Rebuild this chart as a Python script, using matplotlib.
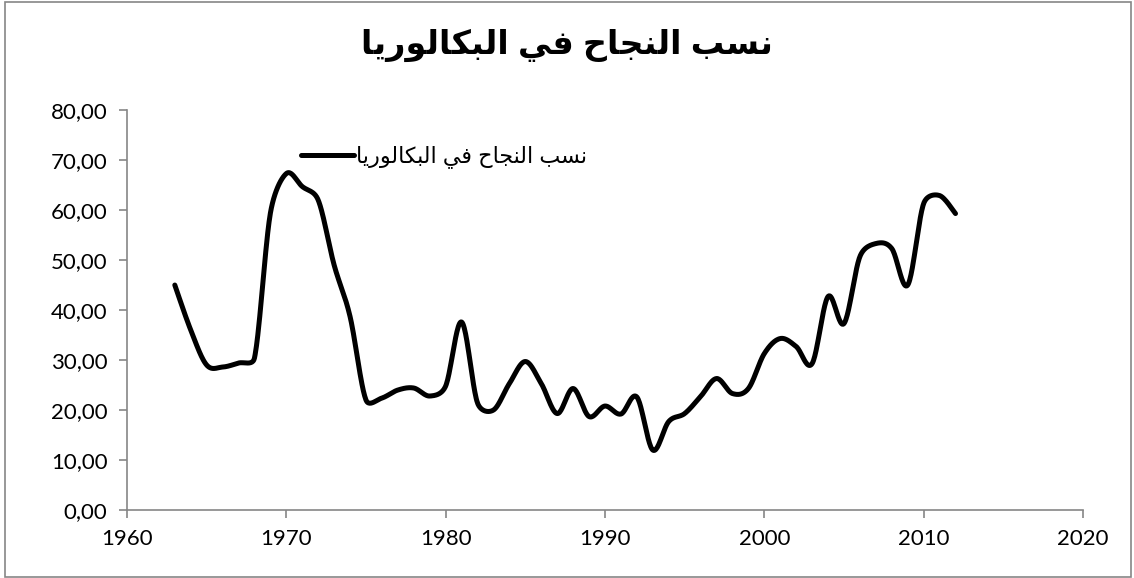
import matplotlib.pyplot as plt
import numpy as np
from matplotlib.patches import Rectangle
from matplotlib.ticker import FuncFormatter

# Pass rates
years = list(range(1963, 2013))
rates = [45.0, 36.0, 29.0, 28.6, 29.4, 30.4, 59.4, 67.3, 64.7, 62.0,
         49.0, 38.7, 22.0, 22.4, 24.0, 24.4, 22.8, 24.8, 37.6, 21.4,
         20.0, 25.3, 29.7, 25.3, 19.3, 24.3, 18.7, 20.8, 19.2, 22.6,
         12.0, 17.7, 19.3, 22.7, 26.3, 23.3, 24.3, 31.3, 34.3, 32.7,
         29.3, 42.7, 37.3, 50.7, 53.3, 52.3, 45.0, 61.3, 62.9, 59.3]

title_text = "نسب النجاح في البكالوريا"
x_ticks = [1960, 1970, 1980, 1990, 2000, 2010, 2020]
y_ticks = [0, 10, 20, 30, 40, 50, 60, 70, 80]

# --- minimal Arabic shaping (matplotlib has no bidi / joining support) ---
FORMS = {  # isolated, final, initial, medial
    'ا': ('\uFE8D', '\uFE8E', None, None),
    'ب': ('\uFE8F', '\uFE90', '\uFE91', '\uFE92'),
    'ج': ('\uFE9D', '\uFE9E', '\uFE9F', '\uFEA0'),
    'ح': ('\uFEA1', '\uFEA2', '\uFEA3', '\uFEA4'),
    'ر': ('\uFEAD', '\uFEAE', None, None),
    'س': ('\uFEB1', '\uFEB2', '\uFEB3', '\uFEB4'),
    'ف': ('\uFED1', '\uFED2', '\uFED3', '\uFED4'),
    'ك': ('\uFED9', '\uFEDA', '\uFEDB', '\uFEDC'),
    'ل': ('\uFEDD', '\uFEDE', '\uFEDF', '\uFEE0'),
    'ن': ('\uFEE5', '\uFEE6', '\uFEE7', '\uFEE8'),
    'و': ('\uFEED', '\uFEEE', None, None),
    'ي': ('\uFEF1', '\uFEF2', '\uFEF3', '\uFEF4'),
}


def dual(c):
    return c in FORMS and FORMS[c][2] is not None


def shape(text):
    out = []
    for i, c in enumerate(text):
        if c not in FORMS:
            out.append(c)
            continue
        before = i > 0 and dual(text[i - 1])
        after = dual(c) and i + 1 < len(text) and text[i + 1] in FORMS
        iso, fin, ini, med = FORMS[c]
        if before and after:
            out.append(med)
        elif before:
            out.append(fin)
        elif after:
            out.append(ini)
        else:
            out.append(iso)
    return ''.join(out)[::-1]


def smooth_line(x, y, yscale=0.314, cap=0.5, n=24):
    # Excel-like smoothed line: bezier through the points with
    # catmull-rom tangents, shortened where a neighbouring segment is short
    p = np.column_stack([np.asarray(x, float), np.asarray(y, float) * yscale])
    m = len(p)
    tang = np.zeros_like(p)
    for i in range(m):
        a = p[max(i - 1, 0)]
        b = p[min(i + 1, m - 1)]
        tang[i] = (b - a) / 6.0
    t = np.linspace(0, 1, n, endpoint=False)[:, None]
    pts = []
    for i in range(m - 1):
        p0, p3 = p[i], p[i + 1]
        seg = np.linalg.norm(p3 - p0)
        t0, t1 = tang[i].copy(), tang[i + 1].copy()
        for tv in (t0, t1):
            ln = np.linalg.norm(tv)
            if ln > cap * seg:
                tv *= cap * seg / ln
        c1, c2 = p0 + t0, p3 - t1
        pts.append((1 - t) ** 3 * p0 + 3 * (1 - t) ** 2 * t * c1
                   + 3 * (1 - t) * t ** 2 * c2 + t ** 3 * p3)
    pts.append(p[-1:])
    pts = np.vstack(pts)
    return pts[:, 0], pts[:, 1] / yscale


fig = plt.figure(figsize=(11.34, 5.78), dpi=100)
ax = fig.add_axes([0.112, 0.1176, 0.843, 0.692])

sx, sy = smooth_line(years, rates)
ax.plot(sx, sy, color='black', lw=3.6, solid_capstyle='round',
        label=shape(title_text))

ax.set_xlim(1960, 2020)
ax.set_ylim(0, 80)
ax.set_xticks(x_ticks)
ax.set_yticks(y_ticks)
ax.yaxis.set_major_formatter(FuncFormatter(lambda v, p: f"{v:.2f}".replace('.', ',')))

grey = '#868686'
for s in ['top', 'right']:
    ax.spines[s].set_visible(False)
for s in ['left', 'bottom']:
    ax.spines[s].set_color(grey)
    ax.spines[s].set_linewidth(1.2)
ax.tick_params(direction='out', length=6, width=1.2, color=grey,
               labelsize=16, pad=8)
for lab in ax.get_xticklabels() + ax.get_yticklabels():
    lab.set_family(['Lato', 'DejaVu Sans'])

fig.suptitle(shape(title_text), x=0.5, y=0.95, fontsize=24, fontweight='bold',
             family=['Liberation Sans', 'DejaVu Sans'])

ax.legend(loc='center left', bbox_to_anchor=(0.161, 0.883), frameon=False,
          handlelength=2.4, handletextpad=0.1,
          prop={'family': ['Liberation Sans', 'DejaVu Sans'], 'size': 16})

fig.patches.append(Rectangle((0.004, 0.002), 0.993, 0.995, transform=fig.transFigure,
                             fill=False, edgecolor=grey, lw=1.2))

fig.savefig('out.png', dpi=100)
